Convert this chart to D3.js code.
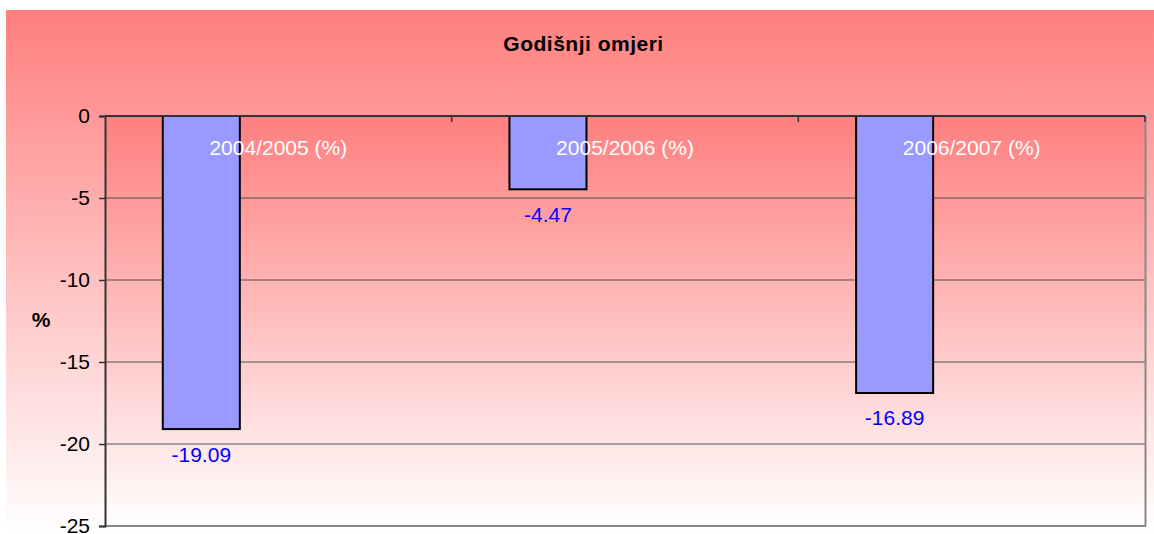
<!DOCTYPE html>
<html><head><meta charset="utf-8">
<script src="https://cdn.jsdelivr.net/npm/d3@7"></script>
<style>html,body{margin:0;padding:0;background:#fff;}svg{display:block;font-family:"Liberation Sans",Arial,sans-serif;}</style>
</head><body>
<script>
const categories = ["2004/2005 (%)", "2005/2006 (%)", "2006/2007 (%)"];
const values = [-19.09, -4.47, -16.89];
const seriesSlots = ["s1", "s2", "s3"];
const yTicks = [0, -5, -10, -15, -20, -25];
const title = "Godišnji omjeri";
const yLabel = "%";

const W = 1154, H = 534;
const FS = 21;
const svg = d3.select("body").append("svg").attr("width", W).attr("height", H);
const defs = svg.append("defs");
const g1 = defs.append("linearGradient").attr("id","outerGrad").attr("x1",0).attr("y1",0).attr("x2",0).attr("y2",1);
g1.append("stop").attr("offset","0%").attr("stop-color","#ff7f7f");
g1.append("stop").attr("offset","100%").attr("stop-color","#ffffff");
const g2 = defs.append("linearGradient").attr("id","plotGrad").attr("x1",0).attr("y1",0).attr("x2",0).attr("y2",1);
g2.append("stop").attr("offset","0%").attr("stop-color","#ff7f7f");
g2.append("stop").attr("offset","100%").attr("stop-color","#ffffff");

svg.append("rect").attr("x",6).attr("y",10).attr("width",W-6).attr("height",H-10).attr("fill","url(#outerGrad)");

const L = 105, R = 1145, T = 116, B = 526;
svg.append("rect").attr("x",L).attr("y",T).attr("width",R-L).attr("height",B-T).attr("fill","url(#plotGrad)");

const y = d3.scaleLinear().domain([-25, 0]).range([B, T]);
const x0 = d3.scaleBand().domain(categories).range([L, R]);
const x1 = d3.scaleBand().domain(seriesSlots).range([0, x0.bandwidth()]).paddingInner(0).paddingOuter(0.75);

// gridlines
svg.append("g").selectAll("line").data(yTicks.filter(d => d !== 0)).join("line")
  .attr("x1", L).attr("x2", R).attr("y1", d => y(d)).attr("y2", d => y(d))
  .attr("stroke", "#505050").attr("stroke-width", 1);

// right / bottom border
svg.append("line").attr("x1",R+0.5).attr("x2",R+0.5).attr("y1",T).attr("y2",B).attr("stroke","#888").attr("stroke-width",2);
svg.append("line").attr("x1",L).attr("x2",R+1).attr("y1",B).attr("y2",B).attr("stroke","#888").attr("stroke-width",2);

// bars
svg.append("g").selectAll("rect").data(values).join("rect")
  .attr("x", (d,i) => x0(categories[i]) + x1("s1"))
  .attr("width", x1.bandwidth())
  .attr("y", d => y(Math.max(0,d)))
  .attr("height", d => Math.abs(y(d) - y(0)))
  .attr("fill", "#9999ff").attr("stroke", "#000").attr("stroke-width", 2);

// y axis
const yAxis = d3.axisLeft(y).tickValues(yTicks).tickSize(6).tickPadding(9).tickFormat(d3.format("d"));
const ya = svg.append("g").attr("transform", `translate(${L},0)`).call(yAxis);
ya.select(".domain").attr("stroke","#333").attr("stroke-width",2);
ya.selectAll(".tick line").attr("stroke","#333").attr("stroke-width",1.5);
ya.selectAll(".tick text").attr("font-size",FS).attr("fill","#000").attr("font-family","Liberation Sans, Arial, sans-serif")
  .attr("dy","0.33em")
  .text(d => d === 0 ? "0" : "-" + Math.abs(d));

// x axis at zero (ticks downward at category boundaries)
const xa = svg.append("g");
xa.append("line").attr("x1",L).attr("x2",R).attr("y1",y(0)).attr("y2",y(0)).attr("stroke","#333").attr("stroke-width",2);
const bounds = categories.map(c => x0(c)).concat([R]);
xa.selectAll("line.tk").data(bounds.slice(1)).join("line").attr("class","tk")
  .attr("x1", d => d).attr("x2", d => d).attr("y1", y(0)).attr("y2", y(0)+6)
  .attr("stroke","#333").attr("stroke-width",1.5);
xa.selectAll("text").data(categories).join("text")
  .attr("x", d => x0(d) + x0.bandwidth()/2).attr("y", y(0) + 39)
  .attr("text-anchor","middle").attr("font-size",FS).attr("fill","#fff").text(d => d);

// value labels
svg.append("g").selectAll("text").data(values).join("text")
  .attr("x", (d,i) => x0(categories[i]) + x1("s1") + x1.bandwidth()/2)
  .attr("y", d => y(d) + 32.5)
  .attr("text-anchor","middle").attr("font-size",FS).attr("fill","#0000ff")
  .text(d => d.toFixed(2));

// title
svg.append("text").attr("x", 583.5).attr("y", 51).attr("text-anchor","middle")
  .attr("font-size",21).attr("font-weight","bold").attr("letter-spacing","0.5px").attr("fill","#000").text(title);

// y label
svg.append("text").attr("x", 41).attr("y", 327).attr("text-anchor","middle")
  .attr("font-size",FS).attr("font-weight","bold").attr("fill","#000").text(yLabel);
</script>
</body></html>
